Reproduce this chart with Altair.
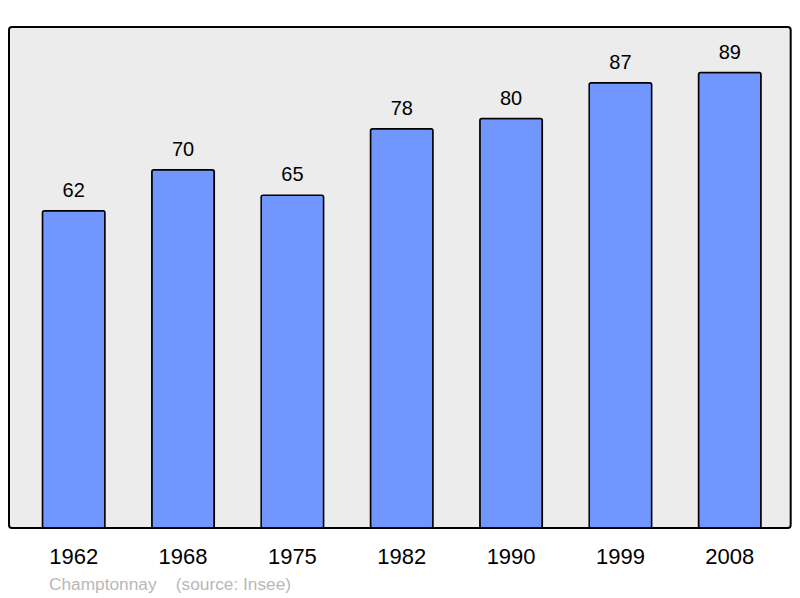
import altair as alt
import pandas as pd

years = ["1962", "1968", "1975", "1982", "1990", "1999", "2008"]
population = [62, 70, 65, 78, 80, 87, 89]
caption = "Champtonnay\u00a0\u00a0\u00a0\u00a0(source: Insee)"

df = pd.DataFrame({"year": years, "pop": population})

FONT = "Liberation Sans"

x = alt.X("year:N", sort=years, title=None,
          scale=alt.Scale(paddingInner=0.4285, paddingOuter=0.2886, align=0.53),
          axis=alt.Axis(domain=False, ticks=False, labelAngle=0, labelFontSize=22,
                        labelFont=FONT, labelColor="#000000", labelPadding=18.5,
                        grid=False))
y = alt.Y("pop:Q", title=None,
          scale=alt.Scale(domain=[0, 97.9], nice=False, zero=True),
          axis=None)

bars = alt.Chart(df).mark_bar(
    color="#7197ff", stroke="#000000", strokeWidth=1.5, cornerRadius=2
).encode(x=x, y=y)

labels = alt.Chart(df).mark_text(
    dy=-14, baseline="alphabetic", align="center", fontSize=20, font=FONT, color="#000000"
).encode(x=x, y=y, text="pop:Q")

chart = alt.layer(bars, labels).properties(
    width=781.7,
    height=501,
    background="#ffffff",
    padding={"left": 1, "top": 19, "right": 1, "bottom": 74},
    autosize=alt.AutoSizeParams(type="none"),
    title=alt.Title(caption, orient="bottom", anchor="start", dx=40, offset=9,
                    fontSize=17.3, font=FONT, fontWeight="normal", color="#b8b8b8"),
).configure_view(
    fill="#ececec", stroke="#000000", strokeWidth=2, cornerRadius=3
)

chart.save("out.html", embed_options={"renderer": "svg", "actions": False})
